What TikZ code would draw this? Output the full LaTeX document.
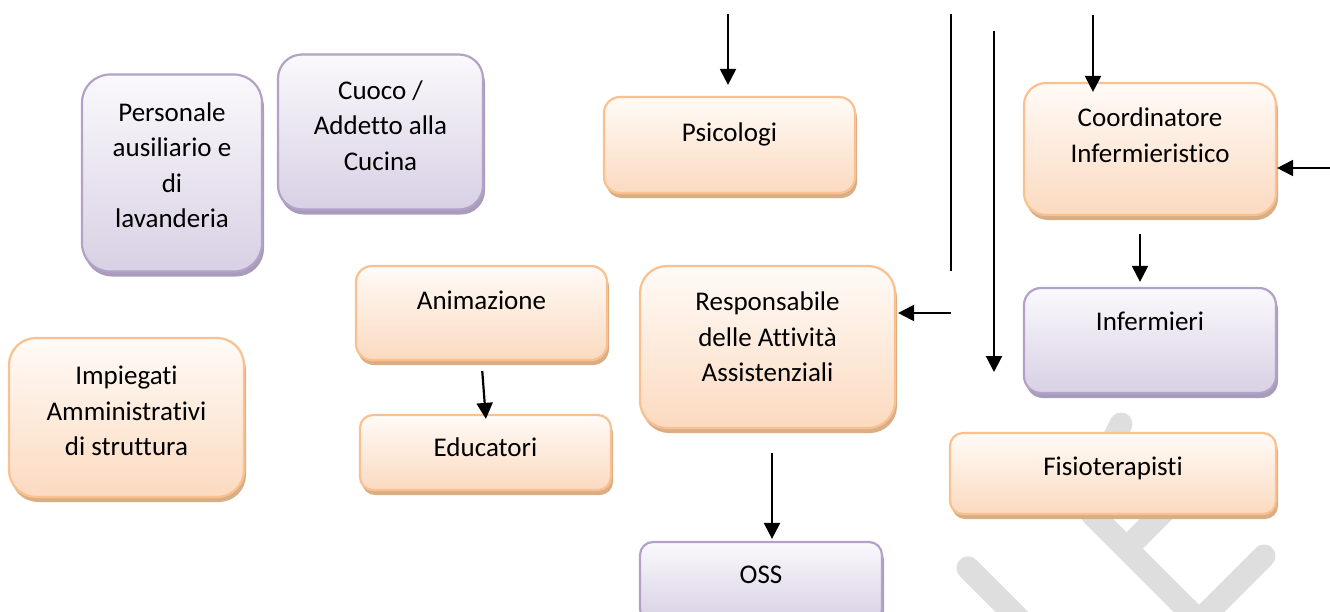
\documentclass[tikz,border=0pt]{standalone}
\usepackage{fontspec}
\setmainfont[Ligatures=NoCommon]{Carlito}
\usetikzlibrary{arrows.meta,shadows}

\definecolor{orline}{HTML}{FAC090}
\definecolor{ortop}{HTML}{FFFBF7}
\definecolor{orbot}{HTML}{FBDAC0}
\definecolor{orshad}{HTML}{D9AE85}
\definecolor{viline}{HTML}{B3A2C7}
\definecolor{vitop}{HTML}{FAF9FC}
\definecolor{vibot}{HTML}{D8D0E4}
\definecolor{vishad}{HTML}{A99CBA}
\definecolor{wmark}{HTML}{DEDEDE}

\tikzset{
  orbox/.style={draw=orline, line width=2.2pt, top color=ortop, bottom color=orbot,
    drop shadow={shadow xshift=2pt, shadow yshift=-5pt, fill=orshad, opacity=1}},
  vibox/.style={draw=viline, line width=2.2pt, top color=vitop, bottom color=vibot,
    drop shadow={shadow xshift=2pt, shadow yshift=-5pt, fill=vishad, opacity=1}},
  lbl/.style={anchor=north, inner sep=0pt, align=center,
    font=\fontsize{27}{35.5}\selectfont},
  arr/.style={line width=2.2pt, -{Triangle[length=16pt,width=16pt]}},
  wm/.style={wmark, line width=23pt, line cap=round}
}

\begin{document}
\begin{tikzpicture}[x=1pt,y=-1pt]
\useasboundingbox (0,0) rectangle (1330,611);

% watermark
\draw[wm] (1121,424) -- (1098,470);
\draw[wm] (1092,514) -- (1205,627);
\draw[wm] (1165,510) -- (1130,545);
\draw[wm] (1264,556) -- (1205,615);
\draw[wm] (968,568) -- (1020,620);

% boxes
\node[vibox, minimum width=180pt, minimum height=197pt, rounded corners=28pt] (pers) at (172,173) {};
\node[lbl] at ([yshift=-29pt]pers.north) {Personale\\ausiliario e\\di\\lavanderia};

\node[vibox, minimum width=205pt, minimum height=155pt, rounded corners=24pt] (cuoco) at (380.5,132) {};
\node[lbl] at ([yshift=-27pt]cuoco.north) {Cuoco /\\Addetto alla\\Cucina};

\node[orbox, minimum width=251pt, minimum height=96pt, rounded corners=16pt] (psic) at (729.5,145) {};
\node[lbl] at ([yshift=-27pt]psic.north) {Psicologi};

\node[orbox, minimum width=252pt, minimum height=132pt, rounded corners=22pt] (coord) at (1150,149) {};
\node[lbl] at ([yshift=-26pt]coord.north) {Coordinatore\\Infermieristico};

\node[orbox, minimum width=251pt, minimum height=94pt, rounded corners=16pt] (anim) at (481.5,313) {};
\node[lbl] at ([yshift=-26pt]anim.north) {Animazione};

\node[orbox, minimum width=251pt, minimum height=75pt, rounded corners=13pt] (educ) at (485.5,452.5) {};
\node[lbl] at ([yshift=-24pt]educ.north) {Educatori};

\node[orbox, minimum width=255pt, minimum height=162pt, rounded corners=27pt] (resp) at (767.5,347) {};
\node[lbl] at ([yshift=-27pt]resp.north) {Responsabile\\delle Attività\\Assistenziali};

\node[orbox, minimum width=235pt, minimum height=159pt, rounded corners=27pt] (impieg) at (126.5,417.5) {};
\node[lbl] at ([yshift=-29pt]impieg.north) {Impiegati\\Amministrativi\\di struttura};

\node[vibox, minimum width=252pt, minimum height=105pt, rounded corners=17pt] (inferm) at (1150,340.5) {};
\node[lbl] at ([yshift=-25pt]inferm.north) {Infermieri};

\node[orbox, minimum width=326pt, minimum height=81pt, rounded corners=13pt] (fisio) at (1113,473.5) {};
\node[lbl] at ([yshift=-25pt]fisio.north) {Fisioterapisti};

\node[vibox, minimum width=242pt, minimum height=80pt, rounded corners=13pt] (oss) at (761,582) {};
\node[lbl] at ([yshift=-25pt]oss.north) {OSS};

% connectors
\coordinate (psicin) at (728,14);
\coordinate (coordin) at (1093,15);
\coordinate (coordr) at (1330,168);
\coordinate (infin) at (1140,234);
\coordinate (respin) at (951,313);
\coordinate (ossin) at (772,453);
\coordinate (vlineA) at (951,14);
\coordinate (vlineAend) at (951,271);
\coordinate (vlineB) at (994,31);
\coordinate (vlineBend) at (994,372);

\draw[arr, shorten >=11pt] (psicin) -- (psicin |- psic.north);
\draw[arr, shorten >=-10pt] (coordin) -- (coordin |- coord.north);
\draw[arr] (coordr) -- (coordr -| coord.east);
\draw[arr, shorten >=5pt] (infin) -- (infin |- inferm.north);
\draw[arr, shorten >=2pt] (respin) -- (respin -| resp.east);
\draw[arr, shorten >=2pt] (ossin) -- (ossin |- oss.north);
\draw[arr, shorten <=10pt, shorten >=-5pt] (anim.south) -- (educ.north);
\draw[line width=2.2pt] (vlineA) -- (vlineAend);
\draw[arr] (vlineB) -- (vlineBend);
\end{tikzpicture}
\end{document}
